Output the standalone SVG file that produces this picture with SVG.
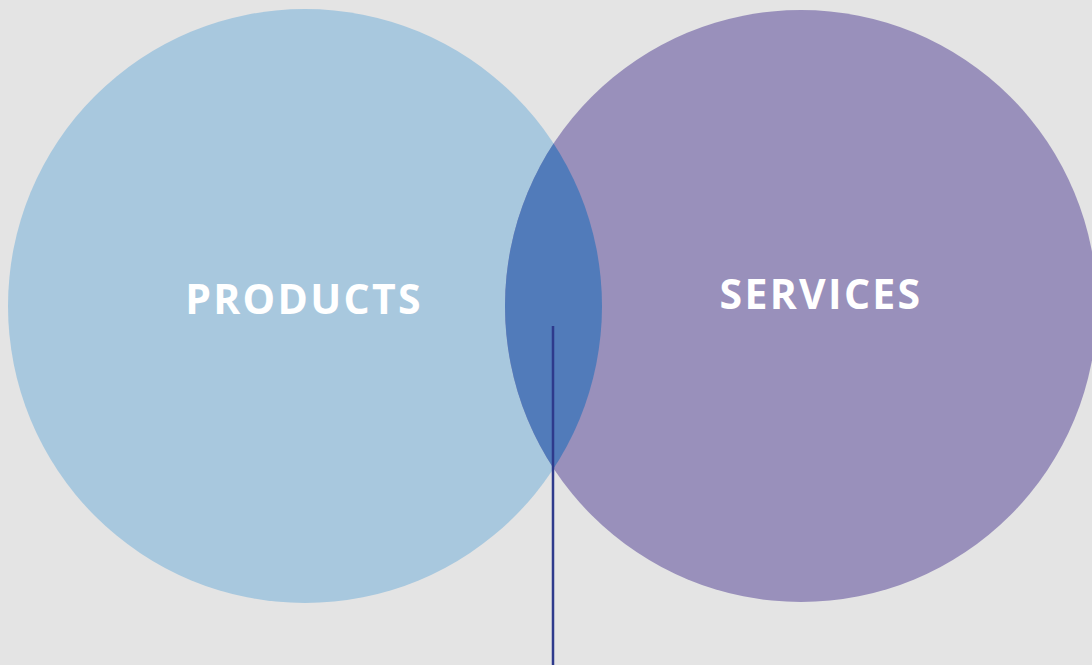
<svg xmlns="http://www.w3.org/2000/svg" width="1092" height="665" viewBox="0 0 1092 665">
<style>
.lbl{font-family:"Open Sans","Liberation Sans",sans-serif;font-weight:700;font-size:41px;fill:#ffffff;text-anchor:middle;letter-spacing:2.3px}
</style>
<defs>
<clipPath id="clipL"><circle cx="305" cy="306" r="297"/></clipPath>
</defs>
<rect width="1092" height="665" fill="#e4e4e4"/>
<g id="products">
<circle cx="305" cy="306" r="297" fill="#a8c8de"/>
</g>
<g id="services">
<circle cx="801" cy="306" r="296" fill="#9990bb"/>
</g>
<g id="overlap">
<circle cx="801" cy="306" r="296" fill="#517bba" clip-path="url(#clipL)"/>
</g>
<g id="connectors">
<line x1="553" y1="326" x2="553" y2="665" stroke="#2e3a8c" stroke-width="2.5"/>
</g>
<text class="lbl" x="304" y="314">PRODUCTS</text>
<text class="lbl" x="821" y="309">SERVICES</text>
</svg>
